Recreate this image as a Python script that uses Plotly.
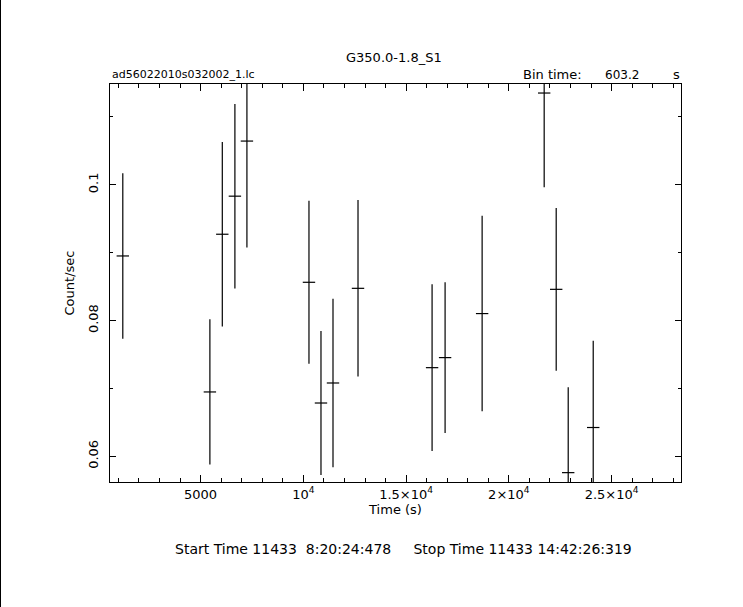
import plotly.graph_objects as go

# ---- data ----
time_s = [1216, 5453, 6057, 6670, 7255, 10274, 10858, 11443, 12660,
          16264, 16897, 18699, 21718, 22303, 22887, 24104]
rate = [0.08952, 0.06948, 0.09272, 0.09833, 0.10645, 0.08564, 0.06785, 0.0708,
        0.08475, 0.07306, 0.07454, 0.08103, 0.11353, 0.0846, 0.05759, 0.06424]
rate_err = [0.0122, 0.0107, 0.0136, 0.0136, 0.0157, 0.0120, 0.0106, 0.0124,
            0.0130, 0.0123, 0.0111, 0.0144, 0.0139, 0.0120, 0.0126, 0.0128]
bin_time = 603.2
half_bin = [bin_time / 2] * len(time_s)

x_tickvals = [5000, 10000, 15000, 20000, 25000]
x_ticktext = ["5000", "10<sup>4</sup>", "1.5×10<sup>4</sup>", "2×10<sup>4</sup>", "2.5×10<sup>4</sup>"]
y_tickvals = [0.06, 0.08, 0.1]
y_ticktext = ["0.06", "0.08", "0.1"]

title_text = "G350.0-1.8_S1"
file_text = "ad56022010s032002_1.lc"
start_stop = "Start Time 11433  8:20:24:478     Stop Time 11433 14:42:26:319"

W, H = 743, 607
L, R, T, B = 110, 62, 84, 125
PW, PH = W - L - R, H - T - B

def px(xp):
    return (xp - L) / PW

def py(yp):
    return (H - B - yp) / PH

FONT = "DejaVu Sans"

fig = go.Figure()
fig.add_trace(go.Scatter(
    x=time_s, y=rate, mode="markers",
    marker=dict(size=1, color="black", opacity=0),
    error_x=dict(type="data", array=half_bin, color="black", thickness=1.2, width=0),
    error_y=dict(type="data", array=rate_err, color="black", thickness=1.2, width=0),
    showlegend=False, cliponaxis=True,
))

fig.update_layout(
    width=W, height=H,
    margin=dict(l=L, r=R, t=T, b=B, pad=0),
    paper_bgcolor="white", plot_bgcolor="white",
    font=dict(family=FONT, size=13, color="black"),
    showlegend=False,
)

fig.update_xaxes(
    range=[593, 28375], showgrid=False, zeroline=False,
    showline=True, linecolor="black", linewidth=1, mirror="ticks",
    ticks="inside", ticklen=7, tickcolor="black", tickwidth=1,
    tickmode="array", tickvals=x_tickvals, ticktext=x_ticktext,
    tickfont=dict(family=FONT, size=13),
    minor=dict(ticks="inside", ticklen=4, tick0=0, dtick=1000, tickcolor="black", showgrid=False),
    title=dict(text="Time (s)", font=dict(family=FONT, size=13), standoff=4),
)
fig.update_yaxes(
    range=[0.05621, 0.11486], showgrid=False, zeroline=False,
    showline=True, linecolor="black", linewidth=1, mirror="ticks",
    ticks="inside", ticklen=6, tickcolor="black", tickwidth=1,
    tickmode="array", tickvals=y_tickvals, ticktext=y_ticktext,
    tickangle=-90, tickfont=dict(family=FONT, size=13),
    ticklabelstandoff=6,
    minor=dict(ticks="inside", ticklen=3, tick0=0, dtick=0.01, tickcolor="black", showgrid=False),
    title=dict(text="Count/sec", font=dict(family=FONT, size=13), standoff=8),
)

annotations = [
    dict(text=title_text, x=px(394), y=py(57), xanchor="center", yanchor="middle", font=dict(size=13)),
    dict(text=file_text, x=px(110), y=py(75), xanchor="left", yanchor="middle", font=dict(size=11)),
    dict(text="Bin time:", x=px(521), y=py(75), xanchor="left", yanchor="middle", font=dict(size=13)),
    dict(text="603.2", x=px(603), y=py(75), xanchor="left", yanchor="middle", font=dict(size=12)),
    dict(text="s", x=px(682), y=py(75), xanchor="right", yanchor="middle", font=dict(size=13)),
    dict(text=start_stop, x=px(403), y=py(549), xanchor="center", yanchor="middle", font=dict(size=14)),
]
for a in annotations:
    a.update(xref="paper", yref="paper", showarrow=False)
fig.update_layout(annotations=annotations)

fig.add_shape(type="line", xref="paper", yref="paper",
              x0=px(0.5), x1=px(0.5), y0=py(H), y1=py(0),
              line=dict(color="black", width=1))

fig.write_html("out.html",
               config={"displayModeBar": False},
               post_script="document.body.style.margin='0px';document.body.style.overflow='hidden';")
